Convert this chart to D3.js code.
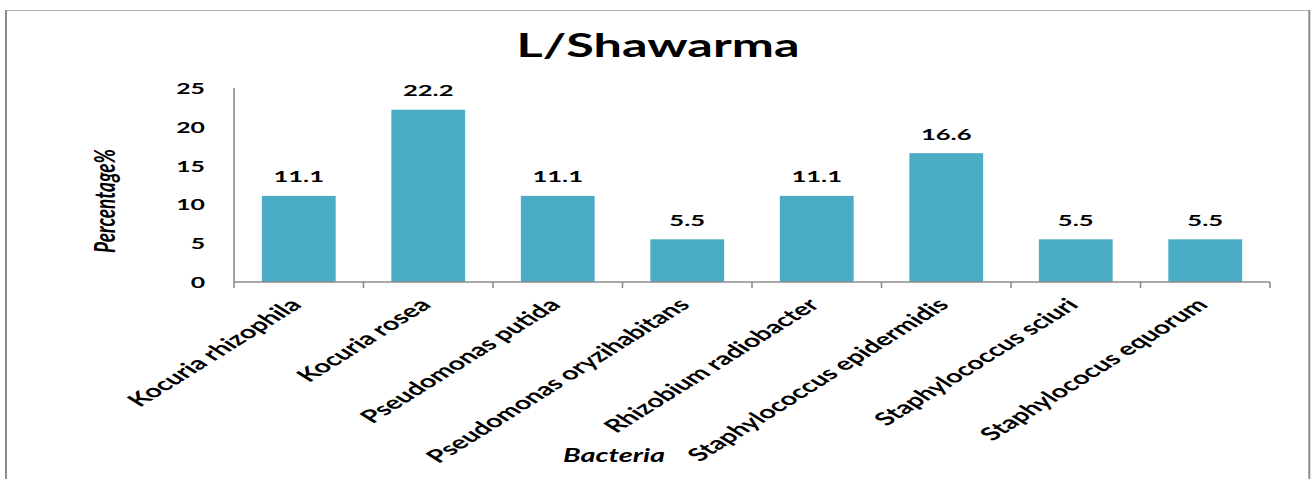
<!DOCTYPE html>
<html>
<head>
<meta charset="utf-8">
<script src="https://cdn.jsdelivr.net/npm/d3@7"></script>
<style>
  html, body { margin: 0; padding: 0; background: #fff; }
  svg { display: block; }
  text { font-family: Lato, "Open Sans", sans-serif; fill: #000; }
</style>
</head>
<body>
<svg id="chart" width="1311" height="479"></svg>
<script>
// Bacteria isolated from shawarma samples, share of isolates in percent
const bacteria = [
  "Kocuria rhizophila",
  "Kocuria rosea",
  "Pseudomonas putida",
  "Pseudomonas oryzihabitans",
  "Rhizobium radiobacter",
  "Staphylococcus epidermidis",
  "Staphylococcus sciuri",
  "Staphylococus equorum"
];
const percentages = [11.1, 22.2, 11.1, 5.5, 11.1, 16.6, 5.5, 5.5];
const yTicks = [0, 5, 10, 15, 20, 25];

const chartTitle = "L/Shawarma";
const yTitle = "Percentage%";
const xTitle = "Bacteria";

// Text in this chart is drawn wide; every label carries the same horizontal stretch.
const SX = 1.6;
const barColor = "#4bacc6";
const axisColor = "#8c8c8c";

const svg = d3.select("#chart");
const plot = { left: 234, right: 1270, top: 88, bottom: 282 };

// Frame around the chart area
const frame = svg.append("g");
frame.append("line").attr("x1", 6).attr("x2", 1309).attr("y1", 10.5).attr("y2", 10.5)
  .attr("stroke", "#b4b4b4").attr("stroke-width", 1.2);
frame.append("line").attr("x1", 6).attr("x2", 6).attr("y1", 10).attr("y2", 479)
  .attr("stroke", axisColor).attr("stroke-width", 2);
frame.append("line").attr("x1", 1309.3).attr("x2", 1309.3).attr("y1", 10).attr("y2", 479)
  .attr("stroke", axisColor).attr("stroke-width", 2);

const x = d3.scaleBand()
  .domain(bacteria)
  .range([plot.left, plot.right])
  .paddingInner(0.43)
  .paddingOuter(0.215);

const y = d3.scaleLinear()
  .domain([0, 25])
  .range([plot.bottom, plot.top]);

// Bars
svg.append("g").selectAll("rect")
  .data(percentages)
  .join("rect")
  .attr("x", (d, i) => x(bacteria[i]))
  .attr("y", d => y(d))
  .attr("width", x.bandwidth())
  .attr("height", d => y(0) - y(d))
  .attr("fill", barColor);

// Value labels above each bar
svg.append("g").selectAll("text")
  .data(percentages)
  .join("text")
  .attr("transform", (d, i) =>
    `translate(${x(bacteria[i]) + x.bandwidth() / 2},${y(d) - 13.5}) scale(${SX},1)`)
  .attr("text-anchor", "middle")
  .attr("font-size", 16)
  .attr("font-weight", "bold")
  .text(d => d.toFixed(1));

// Y axis: plain line, labels only
const yAxis = svg.append("g").attr("transform", `translate(${plot.left},0)`);
yAxis.append("line").attr("x1", 0).attr("x2", 0)
  .attr("y1", y(25)).attr("y2", y(0))
  .attr("stroke", axisColor).attr("stroke-width", 1.6);
yAxis.selectAll("text.tick")
  .data(yTicks)
  .join("text")
  .attr("class", "tick")
  .attr("transform", d => `translate(-29,${y(d)}) scale(${SX},1)`)
  .attr("text-anchor", "end")
  .attr("dominant-baseline", "central")
  .attr("font-size", 15.5)
  .attr("font-weight", "bold")
  .text(d => d);

// X axis: baseline with tick marks at category boundaries
const step = x.step();
const boundaries = d3.range(bacteria.length + 1).map(i => plot.left + i * step);
const xAxis = svg.append("g");
xAxis.append("line")
  .attr("x1", plot.left).attr("x2", plot.right)
  .attr("y1", y(0)).attr("y2", y(0))
  .attr("stroke", axisColor).attr("stroke-width", 1.6);
xAxis.selectAll("line.tickmark")
  .data(boundaries)
  .join("line")
  .attr("class", "tickmark")
  .attr("x1", d => d).attr("x2", d => d)
  .attr("y1", y(0)).attr("y2", y(0) + 6)
  .attr("stroke", axisColor).attr("stroke-width", 1.6);

// Rotated category labels, ending just right of each category centre
xAxis.selectAll("text.cat")
  .data(bacteria)
  .join("text")
  .attr("class", "cat")
  .attr("transform", d =>
    `translate(${x(d) + x.bandwidth() / 2 + 4},${y(0) + 24}) scale(${SX},1) rotate(-45)`)
  .attr("text-anchor", "end")
  .attr("font-size", 18)
  .attr("font-weight", "bold")
  .text(d => d);

// Titles
svg.append("text")
  .attr("transform", `translate(658,57) scale(${SX},1)`)
  .attr("text-anchor", "middle")
  .attr("font-size", 31.5)
  .attr("font-weight", "bold")
  .text(chartTitle);

svg.append("text")
  .attr("transform", `translate(115,201) scale(1.5,1) rotate(-90)`)
  .attr("text-anchor", "middle")
  .attr("font-size", 19)
  .attr("font-weight", "bold")
  .attr("font-style", "italic")
  .text(yTitle);

svg.append("text")
  .attr("transform", `translate(614,462) scale(${SX},1)`)
  .attr("text-anchor", "middle")
  .attr("font-size", 18)
  .attr("font-weight", "bold")
  .attr("font-style", "italic")
  .text(xTitle);
</script>
</body>
</html>
